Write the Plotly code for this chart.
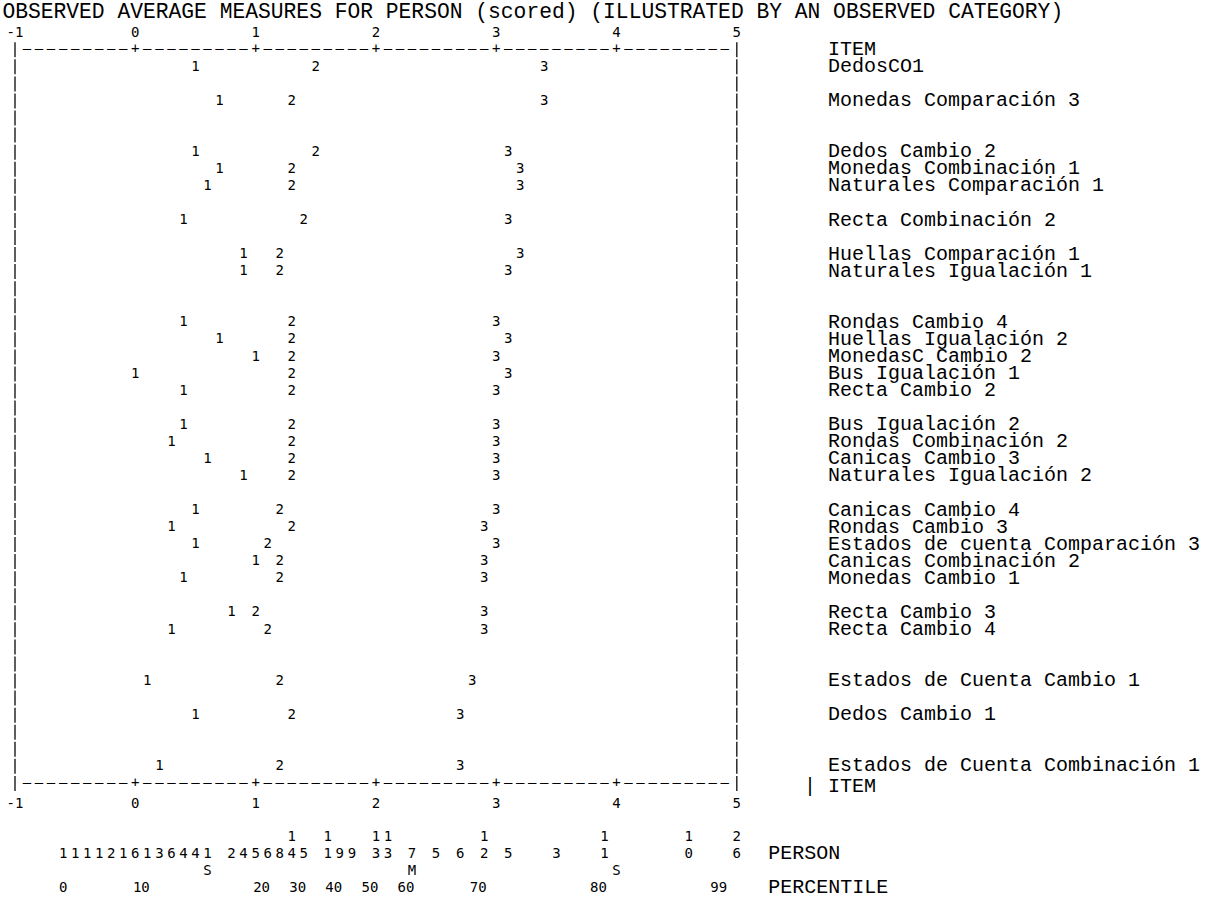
import plotly.graph_objects as go

# Items in display order; None marks an empty line in the listing
ITEM_LABELS = [
    "DedosCO1", None, "Monedas Comparación 3", None, None,
    "Dedos Cambio 2", "Monedas Combinación 1", "Naturales Comparación 1", None,
    "Recta Combinación 2", None,
    "Huellas Comparación 1", "Naturales Igualación 1", None, None,
    "Rondas Cambio 4", "Huellas Igualación 2", "MonedasC Cambio 2", "Bus Igualación 1", "Recta Cambio 2", None,
    "Bus Igualación 2", "Rondas Combinación 2", "Canicas Cambio 3", "Naturales Igualación 2", None,
    "Canicas Cambio 4", "Rondas Cambio 3", "Estados de cuenta Comparación 3", "Canicas Combinación 2", "Monedas Cambio 1", None,
    "Recta Cambio 3", "Recta Cambio 4", None, None,
    "Estados de Cuenta Cambio 1", None,
    "Dedos Cambio 1", None, None,
    "Estados de Cuenta Combinación 1",
]

# Observed average person measure for each scored category of each item
CAT1 = [0.5, None, 0.7, None, None, 0.5, 0.7, 0.6, None, 0.4, None, 0.9, 0.9, None, None,
        0.4, 0.7, 1.0, 0.0, 0.4, None, 0.4, 0.3, 0.6, 0.9, None,
        0.5, 0.3, 0.5, 1.0, 0.4, None, 0.8, 0.3, None, None, 0.1, None, 0.5, None, None, 0.2]
CAT2 = [1.5, None, 1.3, None, None, 1.5, 1.3, 1.3, None, 1.4, None, 1.2, 1.2, None, None,
        1.3, 1.3, 1.3, 1.3, 1.3, None, 1.3, 1.3, 1.3, 1.3, None,
        1.2, 1.3, 1.1, 1.2, 1.2, None, 1.0, 1.1, None, None, 1.2, None, 1.3, None, None, 1.2]
CAT3 = [3.4, None, 3.4, None, None, 3.1, 3.2, 3.2, None, 3.1, None, 3.2, 3.1, None, None,
        3.0, 3.1, 3.0, 3.1, 3.0, None, 3.0, 3.0, 3.0, 3.0, None,
        3.0, 2.9, 3.0, 2.9, 2.9, None, 2.9, 2.9, None, None, 2.8, None, 2.7, None, None, 2.7]

# Person measure distribution (measure, number of persons)
PERSON_MEASURE = [-0.6, -0.5, -0.4, -0.3, -0.2, -0.1, 0.0, 0.1, 0.2, 0.3, 0.4, 0.5, 0.6,
                  0.8, 0.9, 1.0, 1.1, 1.2, 1.3, 1.4,
                  1.6, 1.7, 1.8,
                  2.0, 2.1,
                  2.3, 2.5, 2.7, 2.9, 3.1, 3.5, 3.9, 4.6, 5.0]
PERSON_COUNT = [1, 1, 1, 1, 2, 1, 6, 1, 3, 6, 4, 4, 1,
                2, 4, 5, 6, 8, 14, 5,
                11, 9, 9,
                13, 13,
                7, 5, 6, 12, 5, 3, 11, 10, 26]

# Mean (M) and +/- one standard deviation (S) of persons
SUMMARY_MARKS = ["S", "M", "S"]
SUMMARY_MEASURE = [0.6, 2.3, 4.0]

# Percentile markers of the person distribution
PERCENTILE_LABELS = ["0", "10", "20", "30", "40", "50", "60", "70", "80", "99"]
PERCENTILE_MEASURE = [-0.6, 0.05, 1.05, 1.35, 1.65, 1.95, 2.25, 2.85, 3.85, 4.85]

TICK_VALUES = [-1, 0, 1, 2, 3, 4, 5]
TICK_LABELS = ["-1", "0", "1", "2", "3", "4", "5"]

TITLE = "OBSERVED AVERAGE MEASURES FOR PERSON (scored) (ILLUSTRATED BY AN OBSERVED CATEGORY)"

MONO = "DejaVu Sans Mono"
LABEL_FONT = "Liberation Mono"
INK = "#000000"
CELL = 0.1  # one character column in measure units

# Visible extent of the text canvas, in measure units (x) and listing lines (y)
X_RANGE = [-1.1247, 8.925]
Y_RANGE = [48.71, -3.93]

n_rows = len(ITEM_LABELS)
rows = list(range(n_rows))
top_row, bottom_row = -1, n_rows

fig = go.Figure()


def text_trace(x, y, text, size=14, family=MONO, pos="middle center"):
    return go.Scatter(
        x=x, y=y, text=text, mode="text", textposition=pos,
        textfont=dict(family=family, size=size, color=INK),
        hoverinfo="skip", showlegend=False, cliponaxis=False,
    )


# Frame: dashed rules with '+' at integer measures between the two side bars
rule = "+".join(["–" * 9] * 6)
rule_x = [TICK_VALUES[0] + (i + 1) * CELL for i in range(len(rule))]
for r in (top_row, bottom_row):
    fig.add_trace(text_trace(rule_x, [r] * len(rule), list(rule)))

# Side bars, broken at every listing line like stacked '|' characters
for xv in (TICK_VALUES[0], TICK_VALUES[-1]):
    fig.add_shape(type="line", xref="x", yref="y", x0=xv, x1=xv,
                  y0=top_row - 0.45, y1=bottom_row + 0.45,
                  line=dict(color="#1a1a1a", width=1.4, dash="15px,2.06px"))

# Category average markers
for cat, vals in (("1", CAT1), ("2", CAT2), ("3", CAT3)):
    fig.add_trace(text_trace(vals, rows, [cat if v is not None else "" for v in vals]))

# Item labels on the right
label_x = 5.758
fig.add_trace(text_trace([label_x], [top_row], ["ITEM"], size=20, family=LABEL_FONT, pos="middle right"))
lab_rows = [r for r, s in zip(rows, ITEM_LABELS) if s]
lab_text = [s for s in ITEM_LABELS if s]
fig.add_trace(text_trace([label_x] * len(lab_rows), lab_rows, lab_text, size=20,
                         family=LABEL_FONT, pos="middle right"))
fig.add_trace(text_trace([label_x - 2 * CELL], [bottom_row + 0.2], ["| ITEM"], size=20,
                         family=LABEL_FONT, pos="middle right"))

# Person distribution: tens digit above, units digit below
base = bottom_row + 3.15
tens = [str(c // 10) if c >= 10 else "" for c in PERSON_COUNT]
units = [str(c % 10) for c in PERSON_COUNT]
fig.add_trace(text_trace(PERSON_MEASURE, [base] * len(tens), tens))
fig.add_trace(text_trace(PERSON_MEASURE, [base + 1] * len(units), units))
fig.add_trace(text_trace(SUMMARY_MEASURE, [base + 2] * 3, SUMMARY_MARKS))
fig.add_trace(text_trace(PERCENTILE_MEASURE, [base + 3] * len(PERCENTILE_LABELS), PERCENTILE_LABELS))
fig.add_trace(text_trace([5.262, 5.262], [base + 1, base + 3], ["PERSON", "PERCENTILE"],
                         size=20, family=LABEL_FONT, pos="middle right"))

# Title line
fig.add_trace(text_trace([X_RANGE[0] + 0.02], [top_row - 2.2], [TITLE], size=21.3,
                         family=LABEL_FONT, pos="middle right"))

# Anchor trace so the top measure axis is drawn
fig.add_trace(go.Scatter(x=[TICK_VALUES[0]], y=[0], mode="markers", marker=dict(opacity=0, size=1),
                         hoverinfo="skip", showlegend=False, xaxis="x2"))


def axis_position(row):
    return (Y_RANGE[0] - row) / (Y_RANGE[0] - Y_RANGE[1])


axis_common = dict(
    range=X_RANGE, tickvals=TICK_VALUES, ticktext=TICK_LABELS,
    showgrid=False, zeroline=False, showline=False,
    ticks="outside", ticklen=7, tickcolor="rgba(0,0,0,0)",
    tickfont=dict(family=MONO, size=14, color=INK),
    anchor="free",
)

fig.update_layout(
    width=1209, height=898, autosize=False,
    margin=dict(l=0, r=0, t=0, b=0),
    paper_bgcolor="white", plot_bgcolor="white",
    xaxis=dict(side="bottom", position=axis_position(bottom_row), **axis_common),
    xaxis2=dict(side="top", overlaying="x", matches="x", position=axis_position(top_row), **axis_common),
    yaxis=dict(range=Y_RANGE, visible=False),
    showlegend=False,
)

fig.write_html("out.html")
